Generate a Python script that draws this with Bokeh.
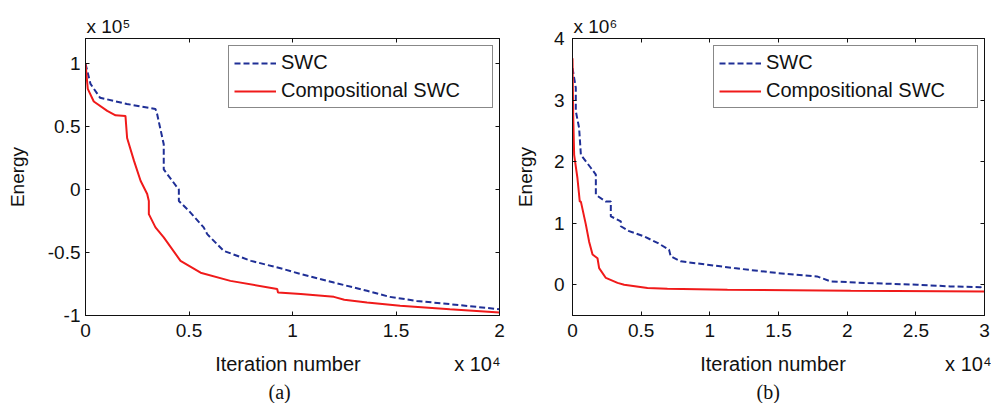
from bokeh.plotting import figure
from bokeh.layouts import row
from bokeh.models import FixedTicker, LinearAxis, Range1d, Title
from bokeh.embed import file_html
from bokeh.resources import INLINE

# ---------------- data (x in units of 1e4 iterations) ----------------
# panel (a): energy in units of 1e5
a_swc_x = [0, 0.024, 0.07, 0.2, 0.338, 0.346, 0.378, 0.378, 0.451, 0.451, 0.50, 0.571, 0.588,
           0.668, 0.80, 0.958, 1.04, 1.20, 1.36, 1.47, 1.60, 1.76, 2.0]
a_swc_y = [1.0, 0.84, 0.73, 0.68, 0.64, 0.60, 0.36, 0.16, 0.0, -0.09, -0.17, -0.30, -0.354,
           -0.487, -0.566, -0.632, -0.671, -0.738, -0.804, -0.852, -0.884, -0.91, -0.95]
a_comp_x = [0, 0.011, 0.04, 0.105, 0.145, 0.193, 0.201, 0.234, 0.266, 0.298, 0.306, 0.306,
            0.338, 0.378, 0.459, 0.556, 0.70, 0.926, 0.93, 1.04, 1.20, 1.25, 1.36, 1.52, 1.76, 2.0]
a_comp_y = [1.0, 0.80, 0.70, 0.625, 0.59, 0.585, 0.41, 0.23, 0.07, -0.035, -0.09, -0.195,
            -0.30, -0.38, -0.566, -0.66, -0.725, -0.79, -0.817, -0.83, -0.852, -0.875, -0.897,
            -0.923, -0.95, -0.976]

# panel (b): energy in units of 1e6
b_swc_x = [0, 0.024, 0.024, 0.048, 0.061, 0.133, 0.17, 0.17, 0.243, 0.279, 0.279, 0.352, 0.352,
           0.412, 0.521, 0.619, 0.703, 0.715, 0.788, 0.982, 1.176, 1.49, 1.78, 1.88, 2.15, 2.51,
           2.75, 2.97, 3.0]
b_swc_y = [3.52, 3.20, 2.82, 2.55, 2.11, 1.90, 1.79, 1.46, 1.35, 1.35, 1.11, 1.03, 0.95,
           0.87, 0.785, 0.68, 0.57, 0.46, 0.38, 0.325, 0.27, 0.19, 0.135, 0.054, 0.027, 0.0,
           -0.027, -0.04, -0.02]
b_comp_x = [0, 0.005, 0.012, 0.036, 0.053, 0.061, 0.097, 0.121, 0.146, 0.182, 0.194, 0.243,
            0.328, 0.376, 0.546, 0.691, 1.128, 2.026, 3.0]
b_comp_y = [3.68, 2.76, 2.11, 1.73, 1.35, 1.35, 0.98, 0.70, 0.49, 0.43, 0.27, 0.11,
            0.03, 0.0, -0.055, -0.065, -0.08, -0.098, -0.11]

a_xticks = [0, 0.5, 1, 1.5, 2]
a_xlabels = ["0", "0.5", "1", "1.5", "2"]
a_yticks = [-1, -0.5, 0, 0.5, 1]
a_ylabels = ["-1", "-0.5", "0", "0.5", "1"]
b_xticks = [0, 0.5, 1, 1.5, 2, 2.5, 3]
b_xlabels = ["0", "0.5", "1", "1.5", "2", "2.5", "3"]
b_yticks = [0, 1, 2, 3, 4]
b_ylabels = ["0", "1", "2", "3", "4"]

series_names = ["SWC", "Compositional SWC"]
x_title = "Iteration number"
y_title = "Energy"
x_exp = "x 10\u2074"
a_y_exp = "x 10\u2075"
b_y_exp = "x 10\u2076"
# anchor of the x-axis title and of the x exponent, in x-axis units
a_xtitle_at = [0.978, 1.893]
b_xtitle_at = [1.46, 2.90]

FONT = "Liberation Sans"
SERIF = "Liberation Serif"
BLUE = "#1f2f96"
RED = "#f01a1a"
INK = "#111111"


def style_axis(ax, ticks, labels, show_labels, standoff):
    ax.ticker = FixedTicker(ticks=ticks)
    ax.minor_tick_line_color = None
    ax.major_tick_in = 4
    ax.major_tick_out = 0
    ax.major_tick_line_color = INK
    ax.axis_line_color = INK
    ax.axis_line_width = 1
    if show_labels:
        ax.major_label_overrides = {t: l for t, l in zip(ticks, labels)}
        ax.major_label_text_font = FONT
        ax.major_label_text_font_size = "19px"
        ax.major_label_text_color = INK
        ax.major_label_standoff = standoff
    else:
        ax.major_label_overrides = {t: "" for t in ticks}
        ax.major_label_text_font_size = "0px"
        ax.major_label_standoff = 0


def panel(width, bl, br, xr, yr, xt, xl, yt, yl, swc, comp, ystand, ylab_stand, y_exp,
          legend_loc, xtitle_at, caption, caption_off):
    p = figure(width=width, height=403, x_range=Range1d(*xr), y_range=Range1d(*yr),
               output_backend="svg", toolbar_location=None,
               min_border_left=bl, min_border_right=br, min_border_top=38, min_border_bottom=88)
    p.xgrid.visible = False
    p.ygrid.visible = False
    p.outline_line_color = INK
    p.background_fill_color = "white"
    p.border_fill_color = "white"

    # exponent label above the y axis
    p.title.text = y_exp
    p.title.align = "left"
    p.title.offset = 1
    p.title.standoff = 3
    p.title.text_font = FONT
    p.title.text_font_size = "19px"
    p.title.text_font_style = "normal"
    p.title.text_color = INK

    style_axis(p.xaxis[0], xt, xl, True, 8)
    style_axis(p.yaxis[0], yt, yl, True, ystand)
    yax = p.yaxis[0]
    yax.axis_label = y_title
    yax.axis_label_text_font = FONT
    yax.axis_label_text_font_size = "19px"
    yax.axis_label_text_font_style = "normal"
    yax.axis_label_text_color = INK
    yax.axis_label_standoff = ylab_stand

    top = LinearAxis()
    style_axis(top, xt, xl, False, 0)
    p.add_layout(top, "above")
    right = LinearAxis()
    style_axis(right, yt, yl, False, 0)
    p.add_layout(right, "right")

    # second row under the x axis: axis title and exponent on one line
    tl = LinearAxis(ticker=FixedTicker(ticks=xtitle_at))
    tl.major_label_overrides = {xtitle_at[0]: x_title, xtitle_at[1]: x_exp}
    tl.axis_line_color = None
    tl.major_tick_line_color = None
    tl.minor_tick_line_color = None
    tl.major_label_text_font = FONT
    tl.major_label_text_font_size = "20px"
    tl.major_label_text_color = INK
    tl.major_label_standoff = 7
    p.add_layout(tl, "below")

    cap = Title(text=caption, align="left", offset=caption_off, standoff=2,
                text_font=SERIF, text_font_size="20px", text_font_style="normal",
                text_color=INK)
    p.add_layout(cap, "below")

    p.line(swc[0], swc[1], color=BLUE, line_width=2, line_dash="6 3", legend_label=series_names[0])
    p.line(comp[0], comp[1], color=RED, line_width=2, legend_label=series_names[1])

    lg = p.legend[0]
    lg.location = legend_loc
    lg.border_line_color = INK
    lg.border_line_width = 1
    lg.background_fill_color = "white"
    lg.background_fill_alpha = 1
    lg.label_text_font = FONT
    lg.label_text_font_size = "20px"
    lg.label_text_color = INK
    lg.glyph_width = 42
    lg.glyph_height = 22
    lg.label_height = 22
    lg.label_width = 206
    lg.padding = 5
    lg.spacing = 5
    lg.label_standoff = 5
    lg.margin = 0
    return p


p1 = panel(505, 85, 6, (0, 2), (-1, 1.2), a_xticks, a_xlabels, a_yticks, a_ylabels,
           (a_swc_x, a_swc_y), (a_comp_x, a_comp_y), 5, 17, a_y_exp, (143, 207),
           a_xtitle_at, "(a)", 183)
p2 = panel(486, 67, 7, (0, 3), (-0.5, 4), b_xticks, b_xlabels, b_yticks, b_ylabels,
           (b_swc_x, b_swc_y), (b_comp_x, b_comp_y), 8, 15, b_y_exp, (141, 207),
           b_xtitle_at, "(b)", 184)

layout = row(p1, p2)
open("out.html", "w").write(file_html(layout, INLINE))
